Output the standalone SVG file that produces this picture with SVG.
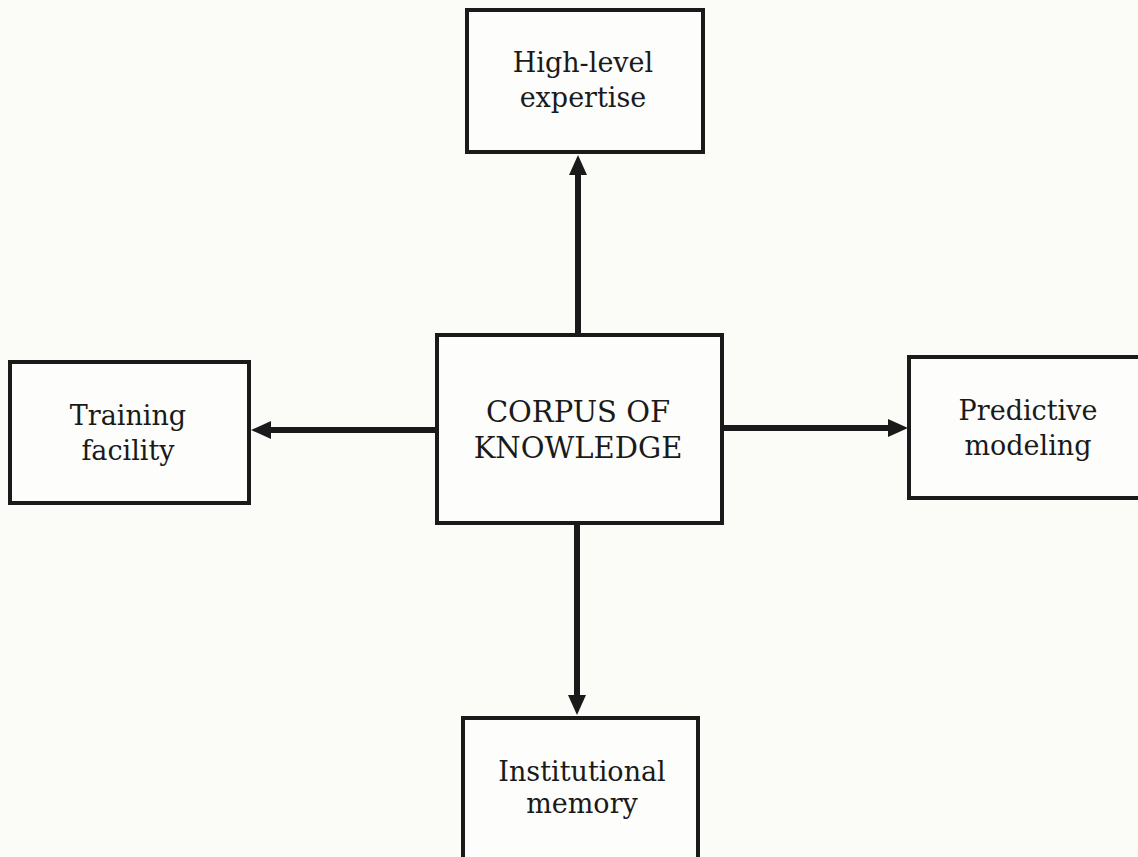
<svg xmlns="http://www.w3.org/2000/svg" width="1138" height="857" viewBox="0 0 1138 857">
<style>
.box{fill:#fdfdfb;stroke:#1a1a1a;stroke-width:4}
.lbl{font-family:"DejaVu Serif","Liberation Serif",serif;font-size:27px;fill:#1a1a1a;text-anchor:middle}
.big{font-size:29px}
.conn{stroke:#1a1a1a;stroke-width:6;fill:none}
</style>
<defs>
<marker id="ah" markerUnits="userSpaceOnUse" markerWidth="22" markerHeight="20" refX="2" refY="9" orient="auto" viewBox="0 0 22 20">
<path d="M0,0 L20,9 L0,18 z" fill="#1a1a1a"/>
</marker>
</defs>
<rect width="1138" height="857" fill="#fbfbf8"/>
<g id="connectors">
<line class="conn" x1="578" y1="335" x2="578" y2="173" marker-end="url(#ah)"/>
<line class="conn" x1="437" y1="430" x2="269" y2="430" marker-end="url(#ah)"/>
<line class="conn" x1="722" y1="428" x2="890" y2="428" marker-end="url(#ah)"/>
<line class="conn" x1="577" y1="523" x2="577" y2="697" marker-end="url(#ah)"/>
</g>
<g id="n-high">
<rect class="box" x="467" y="10" width="236" height="142"/>
<text class="lbl" x="583" y="72">High-level</text>
<text class="lbl" x="583" y="107">expertise</text>
</g>
<g id="n-training">
<rect class="box" x="10" y="362" width="239" height="141"/>
<text class="lbl" x="128" y="425">Training</text>
<text class="lbl" x="128" y="460">facility</text>
</g>
<g id="n-predictive">
<rect class="box" x="909" y="357" width="240" height="141"/>
<text class="lbl" x="1028" y="420">Predictive</text>
<text class="lbl" x="1028" y="455">modeling</text>
</g>
<g id="n-institutional">
<rect class="box" x="463" y="718" width="235" height="150"/>
<text class="lbl" x="582" y="781">Institutional</text>
<text class="lbl" x="582" y="813">memory</text>
</g>
<g id="n-corpus">
<rect class="box" x="437" y="335" width="285" height="188"/>
<text class="lbl big" x="578" y="422">CORPUS OF</text>
<text class="lbl big" x="578" y="458">KNOWLEDGE</text>
</g>
</svg>
